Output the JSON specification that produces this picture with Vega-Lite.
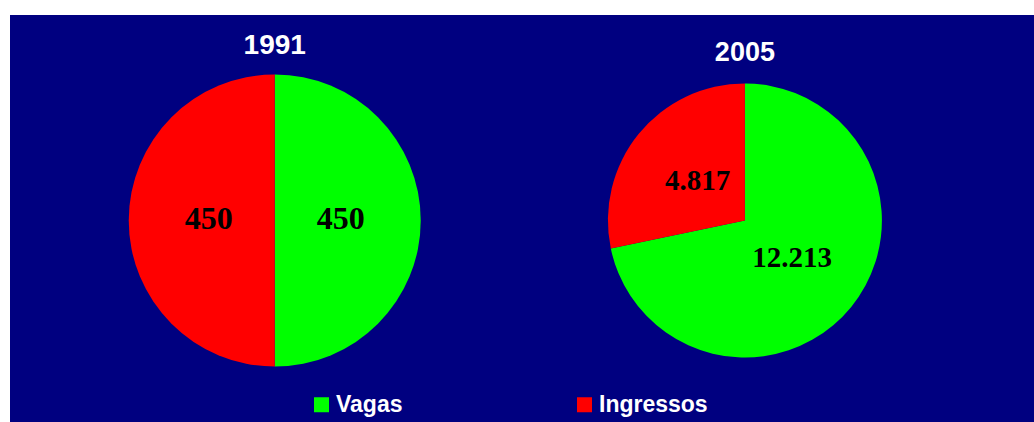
{
  "$schema": "https://vega.github.io/schema/vega-lite/v6.json",
  "width": 1034,
  "height": 422,
  "autosize": {"type": "fit", "contains": "padding"},
  "padding": {"left": 10, "top": 15, "right": 0, "bottom": 0},
  "background": "white",
  "config": {
    "view": {"fill": "#000080", "stroke": null},
    "locale": {"number": {"decimal": ",", "thousands": ".", "grouping": [3], "currency": ["R$ ", ""]}}
  },
  "data": {
    "values": [
      {"ano": "1991", "tipo": "Vagas", "valor": 450},
      {"ano": "1991", "tipo": "Ingressos", "valor": 450},
      {"ano": "2005", "tipo": "Vagas", "valor": 12213},
      {"ano": "2005", "tipo": "Ingressos", "valor": 4817}
    ]
  },
  "encoding": {
    "x": {"field": "ano", "type": "nominal", "scale": {"type": "point", "domain": ["1991", "2005"], "padding": 0.589, "align": 0.478}, "axis": null},
    "theta": {"field": "valor", "type": "quantitative", "stack": "normalize"},
    "order": {"field": "tipo", "type": "ordinal", "sort": "descending"}
  },
  "layer": [
    {
      "transform": [{"filter": "datum.ano == '1991'"}],
      "mark": {"type": "arc", "radius": 146, "yOffset": 2},
      "encoding": {
        "color": {
          "field": "tipo", "type": "nominal",
          "scale": {"domain": ["Vagas", "Ingressos"], "range": ["#00ff00", "#ff0000"]},
          "legend": {
            "title": null, "orient": "none", "direction": "horizontal", "columns": 2,
            "legendX": 300, "legendY": 378, "padding": 0,
            "symbolType": "square", "symbolSize": 225, "symbolStrokeWidth": 0,
            "labelFont": "Liberation Sans", "labelFontWeight": "bold", "labelFontSize": 23,
            "labelColor": "white", "labelOffset": 3, "columnPadding": 170, "labelLimit": 300
          }
        }
      }
    },
    {
      "transform": [{"filter": "datum.ano == '2005'"}],
      "mark": {"type": "arc", "radius": 137, "yOffset": 2},
      "encoding": {
        "color": {"field": "tipo", "type": "nominal"}
      }
    },
    {
      "transform": [{"filter": "datum.ano == '1991'"}],
      "mark": {"type": "text", "radius": 66, "yOffset": 0, "font": "Liberation Serif", "fontWeight": "bold", "fontSize": 32, "color": "black"},
      "encoding": {"text": {"field": "valor", "type": "quantitative", "format": ",d"}}
    },
    {
      "transform": [{"filter": "datum.ano == '2005'"}],
      "mark": {"type": "text", "radius": 61, "yOffset": 1, "font": "Liberation Serif", "fontWeight": "bold", "fontSize": 29, "color": "black"},
      "encoding": {"text": {"field": "valor", "type": "quantitative", "format": ",d"}}
    },
    {
      "transform": [{"filter": "datum.ano == '1991' && datum.tipo == 'Vagas'"}],
      "mark": {"type": "text", "radius": 175, "yOffset": 2, "font": "Liberation Sans", "fontWeight": "bold", "fontSize": 28, "color": "white"},
      "encoding": {"theta": {"value": 0}, "text": {"field": "ano", "type": "nominal"}}
    },
    {
      "transform": [{"filter": "datum.ano == '2005' && datum.tipo == 'Vagas'"}],
      "mark": {"type": "text", "radius": 168, "yOffset": 2, "font": "Liberation Sans", "fontWeight": "bold", "fontSize": 27, "color": "white"},
      "encoding": {"theta": {"value": 0}, "text": {"field": "ano", "type": "nominal"}}
    }
  ]
}
